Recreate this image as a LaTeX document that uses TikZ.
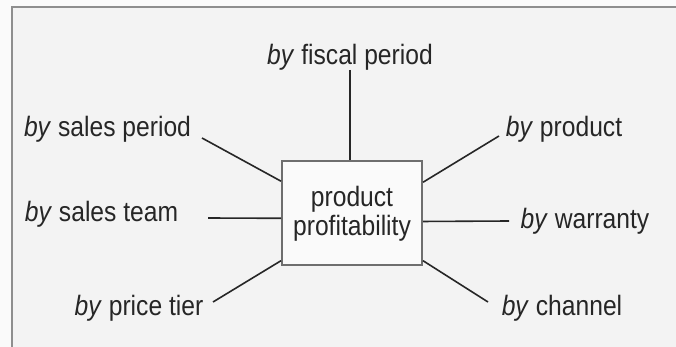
\documentclass[tikz,border=0pt]{standalone}
\usepackage{fontspec}
\setmainfont{Liberation Sans}[FakeStretch=0.88]
\usetikzlibrary{calc}
\definecolor{outerbg}{HTML}{FAFAFA}
\definecolor{innerbg}{HTML}{F3F3F3}
\definecolor{framegray}{HTML}{8E8E8E}
\definecolor{boxgray}{HTML}{6E6E6E}
\definecolor{ink}{HTML}{262626}
\tikzset{
  lbl/.style={inner sep=0pt, anchor=base, text=ink, font=\fontsize{28}{30}\selectfont},
  conn/.style={draw=ink, line width=1.6pt},
  hub/.style={draw=boxgray, line width=2pt, fill=white!60!innerbg, minimum width=140pt, minimum height=104pt, inner sep=0pt}
}
\begin{document}
\begin{tikzpicture}[x=1pt,y=1pt]
\useasboundingbox (0,0) rectangle (676,-347);
\fill[outerbg] (0,0) rectangle (676,-347);
\fill[innerbg] (12,-7) rectangle (676,-347);
\draw[framegray, line width=2pt] (12,-347) -- (12,-7) -- (676,-7);

\node[hub] (box) at (352,-213) {};
\node[lbl] (t1) at (352,-207) {product};
\node[lbl] (t2) at (352,-235) {profitability};

\node[lbl] (fiscal) at (350,-65) {\textit{by} fiscal period};
\node[lbl] (speriod) at (107.5,-137) {\textit{by} sales period};
\node[lbl] (steam) at (101.5,-222) {\textit{by} sales team};
\node[lbl] (ptier) at (139,-315) {\textit{by} price tier};
\node[lbl] (product) at (564,-137) {\textit{by} product};
\node[lbl] (warranty) at (585,-228) {\textit{by} warranty};
\node[lbl] (channel) at (562,-315) {\textit{by} channel};

\coordinate (e1) at (350,-70);
\coordinate (e2) at (202,-138);
\coordinate (e3) at (208,-218);
\coordinate (e4) at (213,-302);
\coordinate (e5) at (499,-136);
\coordinate (e6) at (509,-221);
\coordinate (e7) at (488,-302);

\draw[conn] (e1) -- (box.north -| e1);
\draw[conn] (e2) -- ($(box.north west)!0.2!(box.south west)$);
\draw[conn] (e3) -- ($(box.north west)!0.55!(box.south west)$);
\draw[conn] (e4) -- ($(box.north west)!0.95!(box.south west)$);
\draw[conn] (e5) -- ($(box.north east)!0.21!(box.south east)$);
\draw[conn] (e6) -- ($(box.north east)!0.58!(box.south east)$);
\draw[conn] (e7) -- ($(box.north east)!0.95!(box.south east)$);
\end{tikzpicture}
\end{document}
